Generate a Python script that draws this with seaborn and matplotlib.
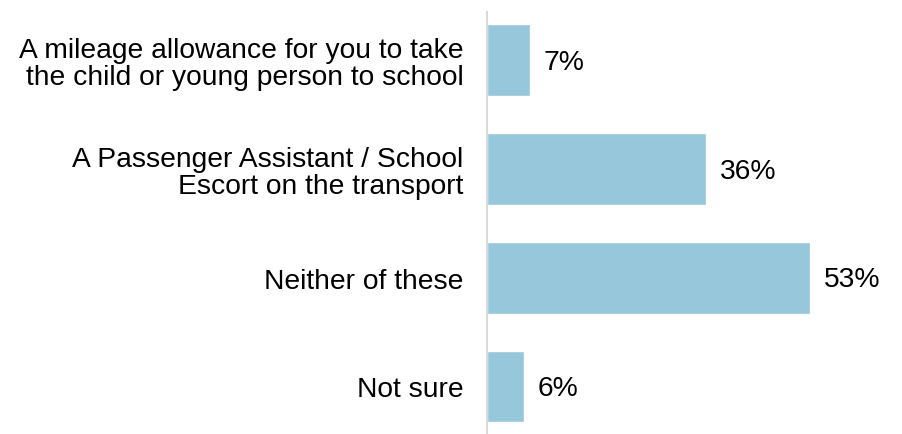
import matplotlib
matplotlib.use("Agg")
import matplotlib.pyplot as plt
import seaborn as sns
import pandas as pd

# chart data
categories = [
    "A mileage allowance for you to take\nthe child or young person to school",
    "A Passenger Assistant / School\nEscort on the transport",
    "Neither of these",
    "Not sure",
]
values = [7, 36, 53, 6]
value_labels = ["7%", "36%", "53%", "6%"]

sns.set_theme(style="white")
plt.rcParams['font.family'] = ['Liberation Sans', 'DejaVu Sans']

df = pd.DataFrame({"option": categories, "pct": values})

fig = plt.figure(figsize=(9.03, 4.35), dpi=100)
# axes placed so bars sit where they do in the reference
ax = fig.add_axes([487 / 903, 1 - 441.9 / 435, (883 - 487) / 903, 435.3 / 435])

sns.barplot(data=df, x="pct", y="option", color="#96c7db", saturation=1,
            width=0.66, ax=ax)

ax.set_xlim(0, 65)
ax.set_ylim(3.5, -0.5)
ax.set_xlabel("")
ax.set_ylabel("")
ax.set_xticks([])
ax.tick_params(axis="y", length=0, pad=17, labelsize=20.3, labelcolor="#000000")
for lbl in ax.get_yticklabels():
    lbl.set_horizontalalignment("right")
    lbl.set_linespacing(1.05)

for s in ["top", "right", "bottom"]:
    ax.spines[s].set_visible(False)
ax.spines["left"].set_color("#d9d9d9")
ax.spines["left"].set_linewidth(1.5)
ax.spines["left"].set_bounds(3.5, -0.44)

for i, (v, t) in enumerate(zip(values, value_labels)):
    ax.annotate(t, (v, i), xytext=(10, -1.2), textcoords="offset points",
                va="center", ha="left", fontsize=20.3, color="#000000")

fig.savefig("out.png", dpi=100)
